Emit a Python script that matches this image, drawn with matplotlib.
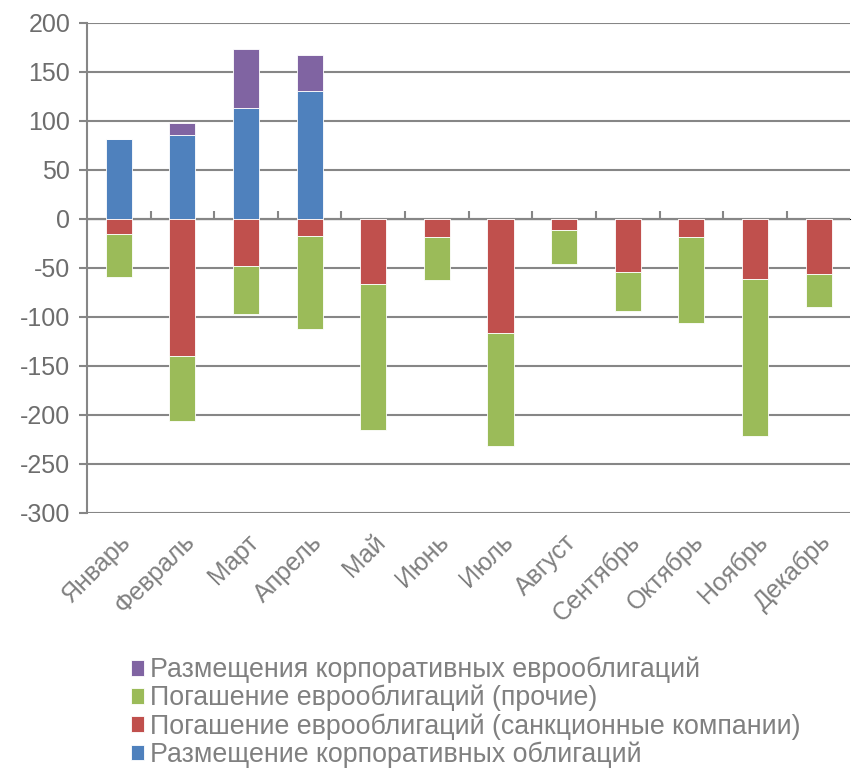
import numpy as np
import matplotlib.pyplot as plt

months = ["Январь", "Февраль", "Март", "Апрель", "Май", "Июнь", "Июль",
          "Август", "Сентябрь", "Октябрь", "Ноябрь", "Декабрь"]

corp_bonds = [81, 86, 113, 130, 0, 0, 0, 0, 0, 0, 0, 0]
corp_eurobonds = [0, 12, 60, 37, 0, 0, 0, 0, 0, 0, 0, 0]
repay_sanctioned = [-15, -140, -48, -17, -66, -18, -116, -11, -54, -19, -61, -56]
repay_other = [-44, -66, -49, -95, -149, -44, -116, -35, -40, -87, -160, -34]

c_blue = "#4F81BD"
c_red = "#C0504D"
c_green = "#9BBB59"
c_purple = "#8064A2"
grey = "#868686"
txt = "#6d6d6d"

plt.rcParams['font.family'] = ['Liberation Sans', 'DejaVu Sans']
plt.rcParams['axes.unicode_minus'] = False

fig = plt.figure(figsize=(8.53, 7.72), dpi=100)
ax = fig.add_axes([0.102, 0.3355, 0.895, 0.635])

x = np.arange(len(months))
w = 0.41
kw = dict(width=w, edgecolor="white", linewidth=0.6, zorder=3)

b_blue = ax.bar(x, corp_bonds, color=c_blue, **kw)
b_purple = ax.bar(x, corp_eurobonds, bottom=corp_bonds, color=c_purple, **kw)
b_red = ax.bar(x, repay_sanctioned, color=c_red, **kw)
b_green = ax.bar(x, repay_other, bottom=repay_sanctioned, color=c_green, **kw)

ax.set_xlim(-0.5, len(months) - 0.5)
ax.set_ylim(-300, 200)
ax.set_yticks(np.arange(-300, 201, 50))
ax.yaxis.grid(True, color=grey, linewidth=1.5, zorder=0)
ax.axhline(0, color=grey, linewidth=1.5, zorder=2)

for s in ["top", "right", "bottom"]:
    ax.spines[s].set_visible(False)
ax.spines["left"].set_color(grey)
ax.spines["left"].set_linewidth(1.5)

ax.tick_params(axis="y", colors=grey, length=6, width=1.5, labelsize=18,
               labelcolor=txt, pad=6)
ax.set_xticks(x)
ax.set_xticklabels(months, rotation=45, ha="right", rotation_mode="anchor",
                   fontsize=18, color="#808080")
ax.tick_params(axis="x", length=0, pad=12)

# tick marks between categories on the zero line
sec = ax.secondary_xaxis(0.6)
sec.set_xticks(np.arange(0.5, len(months) - 0.5, 1))
sec.set_xticklabels([])
sec.tick_params(axis="x", direction="out", length=6, width=1.5, colors=grey)
sec.spines["bottom"].set_visible(False)

handles = [b_purple, b_green, b_red, b_blue]
labels = ["Размещения корпоративных еврооблигаций",
          "Погашение еврооблигаций (прочие)",
          "Погашение еврооблигаций (санкционные компании)",
          "Размещение корпоративных облигаций"]
leg = fig.legend(handles, labels, loc="upper left", bbox_to_anchor=(0.141, 0.163),
                 frameon=False, fontsize=19.3, handlelength=0.5, handleheight=0.5,
                 handletextpad=0.2, labelspacing=0.06, borderaxespad=0)
for t in leg.get_texts():
    t.set_color("#808080")

fig.savefig("out.png", dpi=100)
